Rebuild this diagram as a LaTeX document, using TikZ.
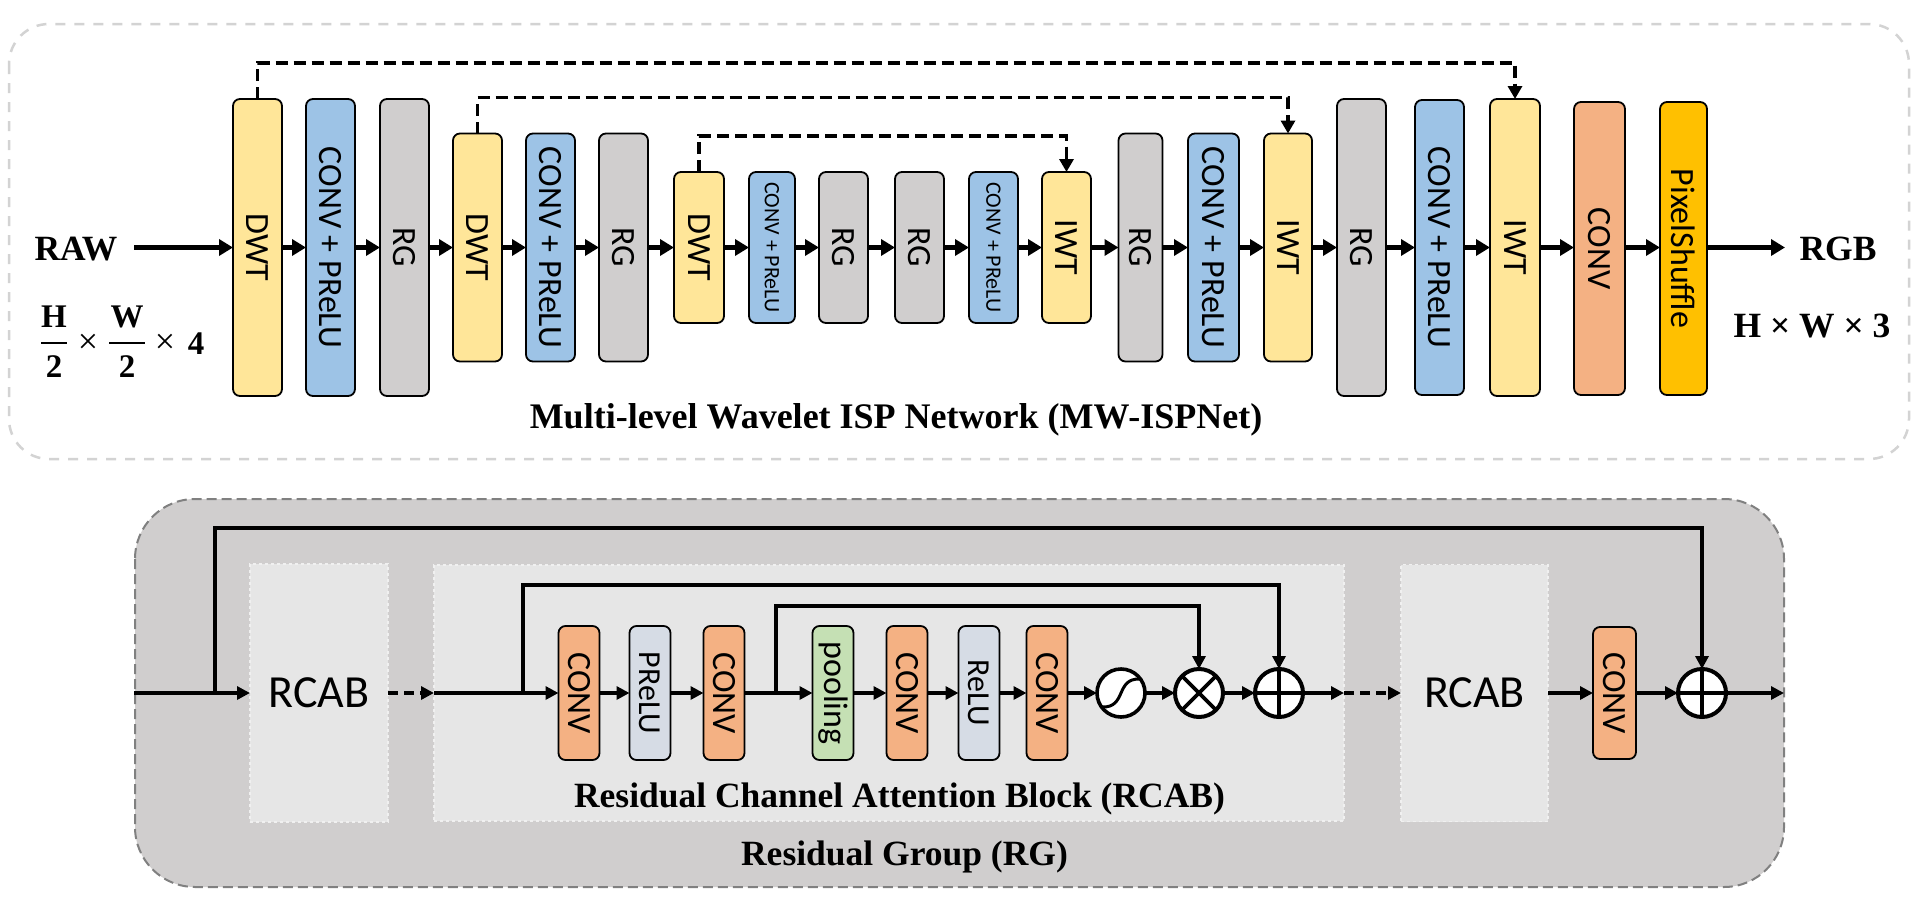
\documentclass[tikz,border=0pt]{standalone}
\usepackage{fontspec}
\setmainfont{Liberation Serif}
\newfontfamily\lab{Carlito}
\usepackage{graphicx}
\usetikzlibrary{arrows.meta}
\definecolor{cdwt}{HTML}{FFE699}
\definecolor{cblue}{HTML}{9DC3E6}
\definecolor{cgray}{HTML}{D0CECE}
\definecolor{corange}{HTML}{F4B183}
\definecolor{cps}{HTML}{FFC000}
\definecolor{cpale}{HTML}{D6DCE5}
\definecolor{cgreen}{HTML}{C5E0B4}
\definecolor{cpanel}{HTML}{E6E6E6}
\definecolor{cframe}{HTML}{D3D3D3}
\newcommand\vtext[1]{\rotatebox{-90}{#1}}
\newcommand\fA{\fontsize{34}{40}\selectfont\lab}
\newcommand\fS{\fontsize{22}{26}\selectfont\lab}
\newcommand\fR{\fontsize{46}{54}\selectfont\lab}
\newcommand\fT{\fontsize{35.5}{42}\selectfont\bfseries}
\begin{document}
\begin{tikzpicture}[x=1pt,y=-1pt,
  blk/.style={draw=black, line width=1.8pt, rounded corners=7pt, inner sep=0pt, outer sep=0pt},
  panel/.style={fill=cpanel, draw=cpanel!60!white, dashed, line width=1.5pt, inner sep=0pt, outer sep=0pt},
  opc/.style={circle, draw=black, fill=white, line width=4pt, minimum size=48pt, inner sep=0pt, outer sep=0pt},
  arrT/.style={line width=4.5pt, -{Triangle[length=14pt,width=16pt]}},
  skipT/.style={line width=3.6pt, dash pattern=on 12pt off 6pt, -{Triangle[length=13pt,width=14pt]}},
  arrB/.style={line width=3.2pt, -{Triangle[length=13pt,width=13pt]}},
  lineB/.style={line width=3.2pt},
  dashB/.style={arrB, dash pattern=on 10pt off 6pt},
  ttl/.style={font=\fT, inner sep=0pt, anchor=base}
]
\useasboundingbox (0,0) rectangle (1920,902);
\fill[white] (0,0) rectangle (1920,902);

% ---------- top frame ----------
\draw[cframe, line width=2.5pt, dash pattern=on 10pt off 9pt, rounded corners=40pt] (9,24) rectangle (1909,459);

% ---------- top blocks ----------
\node[blk, fill=cdwt,  minimum width=49pt, minimum height=297pt] (d1) at (257.5,247.5) {\fA\vtext{DWT}};
\node[blk, fill=cblue, minimum width=49pt, minimum height=297pt] (c1) at (330.5,247.5) {\fA\vtext{CONV + PReLU}};
\node[blk, fill=cgray, minimum width=49pt, minimum height=297pt] (r1) at (404.5,247.5) {\fA\vtext{RG}};
\node[blk, fill=cdwt,  minimum width=49pt, minimum height=228pt] (d2) at (477.5,247.5) {\fA\vtext{DWT}};
\node[blk, fill=cblue, minimum width=49pt, minimum height=228pt] (c2) at (550.5,247.5) {\fA\vtext{CONV + PReLU}};
\node[blk, fill=cgray, minimum width=49pt, minimum height=228pt] (r2) at (623.5,247.5) {\fA\vtext{RG}};
\node[blk, fill=cdwt,  minimum width=50pt, minimum height=151pt] (d3) at (699,247.5) {\fA\vtext{DWT}};
\node[blk, fill=cblue, minimum width=46pt, minimum height=151pt] (c3) at (772,247.5) {\fS\vtext{CONV + PReLU}};
\node[blk, fill=cgray, minimum width=49pt, minimum height=151pt] (r3) at (843.5,247.5) {\fA\vtext{RG}};
\node[blk, fill=cgray, minimum width=49pt, minimum height=151pt] (r4) at (919.5,247.5) {\fA\vtext{RG}};
\node[blk, fill=cblue, minimum width=49pt, minimum height=151pt] (c4) at (993.5,247.5) {\fS\vtext{CONV + PReLU}};
\node[blk, fill=cdwt,  minimum width=49pt, minimum height=151pt] (i3) at (1066.5,247.5) {\fA\vtext{IWT}};
\node[blk, fill=cgray, minimum width=44pt, minimum height=228pt] (r5) at (1140.5,247.5) {\fA\vtext{RG}};
\node[blk, fill=cblue, minimum width=51pt, minimum height=228pt] (c5) at (1213.5,247.5) {\fA\vtext{CONV + PReLU}};
\node[blk, fill=cdwt,  minimum width=48pt, minimum height=228pt] (i2) at (1288,247.5) {\fA\vtext{IWT}};
\node[blk, fill=cgray, minimum width=49pt, minimum height=297pt] (r6) at (1361.5,247.5) {\fA\vtext{RG}};
\node[blk, fill=cblue, minimum width=49pt, minimum height=295pt] (c6) at (1439.5,247.5) {\fA\vtext{CONV + PReLU}};
\node[blk, fill=cdwt,  minimum width=50pt, minimum height=297pt] (i1) at (1515,247.5) {\fA\vtext{IWT}};
\node[blk, fill=corange, minimum width=51pt, minimum height=293pt] (cv) at (1599.5,248.5) {\fA\vtext{CONV}};
\node[blk, fill=cps,   minimum width=47pt, minimum height=293pt] (ps) at (1683.5,248.5) {\fA\vtext{PixelShuffle}};

% ---------- top texts ----------
\node[ttl] (raw) at (76,260) {RAW};
\node[ttl] (rgb) at (1838,260) {RGB};
\node[ttl] (hw3) at (1812,337) {H × W × 3};
\node[ttl, font=\fontsize{36}{42}\selectfont\bfseries] (title1) at (896,428) {Multi-level Wavelet ISP Network (MW-ISPNet)};
% fraction H/2 x W/2 x 4
\node[ttl, font=\fontsize{33}{40}\selectfont\bfseries] (fh) at (54,327) {H};
\node[ttl, font=\fontsize{33}{40}\selectfont\bfseries] (f2a) at (54,377) {2};
\node[ttl, font=\fontsize{33}{40}\selectfont\bfseries] (fw) at (127,327) {W};
\node[ttl, font=\fontsize{33}{40}\selectfont\bfseries] (f2b) at (127,377) {2};
\node[inner sep=0pt, font=\fontsize{36}{40}\selectfont] (fx1) at (88,344) {×};
\node[inner sep=0pt, font=\fontsize{36}{40}\selectfont] (fx2) at (165,344) {×};
\node[ttl, font=\fontsize{33}{40}\selectfont\bfseries] (f4) at (196,354) {4};
\draw[line width=2.4pt] (41,343) -- (67,343);
\draw[line width=2.4pt] (109,343) -- (145,343);

% ---------- top arrows ----------
\coordinate (rawend) at (134,247.5);
\coordinate (rgbend) at (1785,247.5);
\draw[arrT] (rawend) -- (d1.west);
\foreach \a/\b in {d1/c1,c1/r1,r1/d2,d2/c2,c2/r2,r2/d3,d3/c3,c3/r3,r3/r4,r4/c4,c4/i3,i3/r5,r5/c5,c5/i2,i2/r6,r6/c6,c6/i1}
  \draw[arrT] (\a.east) -- (\b.west);
\draw[arrT] (i1.east) -- (i1.east -| cv.west);
\draw[arrT] (cv.east |- i1.east) -- (i1.east -| ps.west);
\draw[arrT] (ps.east |- i1.east) -- (rgbend);

% dashed skip connections
\draw[skipT] (d1.north) -- ([yshift=36pt]d1.north) -| (i1.north);
\draw[skipT] (d2.north) -- ([yshift=36pt]d2.north) -| (i2.north);
\draw[skipT] (d3.north) -- ([yshift=36pt]d3.north) -| (i3.north);

% ---------- bottom frame ----------
\draw[fill=cgray, draw=black!50, line width=2pt, dash pattern=on 10pt off 5pt, rounded corners=60pt] (135,499) rectangle (1784,887);

\node[panel, minimum width=138pt, minimum height=258pt] (p1) at (319,693) {\fR RCAB};
\node[panel, minimum width=910pt, minimum height=256pt] (p2) at (889,693) {};
\node[panel, minimum width=147pt, minimum height=257pt] (p3) at (1474.5,693) {\fR RCAB};

\node[ttl] (title2) at (899.5,807) {Residual Channel Attention Block (RCAB)};
\node[ttl] (title3) at (904.5,865) {Residual Group (RG)};

% RCAB internal blocks
\node[blk, fill=corange, minimum width=41pt, minimum height=134pt] (k1) at (579,693) {\fA\vtext{CONV}};
\node[blk, fill=cpale,   minimum width=41pt, minimum height=134pt] (k2) at (650,693) {\fontsize{32}{38}\selectfont\lab\vtext{PReLU}};
\node[blk, fill=corange, minimum width=41pt, minimum height=134pt] (k3) at (724,693) {\fA\vtext{CONV}};
\node[blk, fill=cgreen,  minimum width=41pt, minimum height=134pt] (pool) at (833,693) {\fA\vtext{pooling}};
\node[blk, fill=corange, minimum width=41pt, minimum height=134pt] (k4) at (907,693) {\fA\vtext{CONV}};
\node[blk, fill=cpale,   minimum width=41pt, minimum height=134pt] (relu) at (979,693) {\fontsize{32}{38}\selectfont\lab\vtext{ReLU}};
\node[blk, fill=corange, minimum width=41pt, minimum height=134pt] (k5) at (1047,693) {\fA\vtext{CONV}};
\node[blk, fill=corange, minimum width=43pt, minimum height=132pt] (k6) at (1614.5,693) {\fA\vtext{CONV}};

\node[opc, line width=3.6pt] (sg) at (1121,693) {};
\draw[line width=3pt, shift={(sg.center)}] (-19,14) .. controls (6,15) and (-6,-15) .. (19,-14);
\node[opc] (mu) at (1199,693) {};
\draw[line width=3.6pt] (mu.north east) -- (mu.south west) (mu.north west) -- (mu.south east);
\node[opc] (ad1) at (1279,693) {};
\draw[line width=3.6pt] (ad1.north) -- (ad1.south) (ad1.west) -- (ad1.east);
\node[opc] (ad2) at (1702,693) {};
\draw[line width=3.6pt] (ad2.north) -- (ad2.south) (ad2.west) -- (ad2.east);

% bottom connectors
\coordinate (bin) at (134,693);
\coordinate (bout) at (1784,693);
\coordinate (s0) at (215,693);
\coordinate (s1) at (523,693);
\coordinate (s2) at (776,693);
\draw[arrB] (bin) -- (p1.west);
\draw[arrB] (s0) -- ++(0,-165) -| (ad2.north);
\draw[dashB] (p1.east) -- (p2.west);
\draw[arrB] (p2.west) -- (k1.west);
\draw[arrB] (s1) -- ++(0,-108) -| (ad1.north);
\draw[arrB] (k1.east) -- (k2.west);
\draw[arrB] (k2.east) -- (k3.west);
\draw[arrB] (k3.east) -- (pool.west);
\draw[arrB] (s2) -- ++(0,-87) -| (mu.north);
\draw[arrB] (pool.east) -- (k4.west);
\draw[arrB] (k4.east) -- (relu.west);
\draw[arrB] (relu.east) -- (k5.west);
\draw[arrB] (k5.east) -- (sg.west);
\draw[arrB] (sg.east) -- (mu.west);
\draw[arrB] (mu.east) -- (ad1.west);
\draw[arrB] (ad1.east) -- (p2.east);
\draw[dashB] (p2.east) -- (p3.west);
\draw[arrB] (p3.east) -- (k6.west);
\draw[arrB] (k6.east) -- (ad2.west);
\draw[arrB] (ad2.east) -- (bout);
\end{tikzpicture}
\end{document}
